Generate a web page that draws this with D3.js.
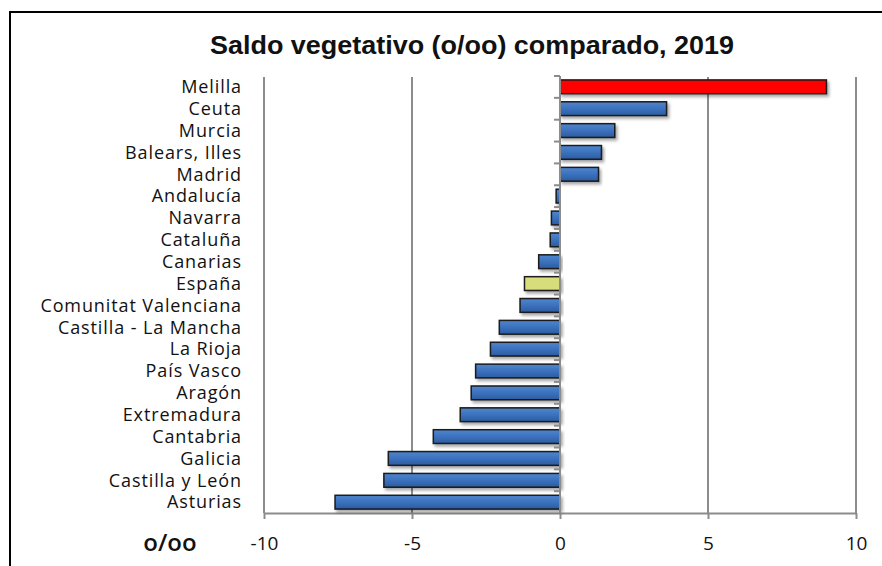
<!DOCTYPE html>
<meta charset="utf-8">
<style>
body { margin: 0; background: #fff; }
text { fill: #111; }
.cat text { font-family: "Open Sans", sans-serif; font-size: 18px; letter-spacing: 0.9px; }
.xlab { font-family: "Open Sans", sans-serif; font-size: 19px; }
.title { font-family: "Liberation Sans", Arial, sans-serif; font-weight: bold; font-size: 25px; }
</style>
<svg width="882" height="566"></svg>
<script src="https://cdn.jsdelivr.net/npm/d3@7"></script>
<script>

var regions = ["Melilla", "Ceuta", "Murcia", "Balears, Illes", "Madrid", "Andalucía", "Navarra",
  "Cataluña", "Canarias", "España", "Comunitat Valenciana", "Castilla - La Mancha", "La Rioja",
  "País Vasco", "Aragón", "Extremadura", "Cantabria", "Galicia", "Castilla y León", "Asturias"];
var saldo = [9.0, 3.6, 1.85, 1.4, 1.3, -0.13, -0.29, -0.33, -0.72, -1.2, -1.35, -2.05, -2.35,
  -2.85, -3.0, -3.37, -4.28, -5.8, -5.95, -7.6];
var xTicks = [-10, -5, 0, 5, 10];

var svg = d3.select("svg");
var x = d3.scaleLinear().domain([-10, 10]).range([264, 856]);
var y = d3.scaleBand().domain(regions).range([76, 513]).paddingInner(0.37).paddingOuter(0.18);
var band = d3.scaleBand().domain(regions).range([76, 513]);

// frame
svg.append("rect").attr("x", 10).attr("y", 12).attr("width", 900).attr("height", 600)
  .attr("fill", "none").attr("stroke", "#000").attr("stroke-width", 2);

svg.append("text").attr("class", "title").attr("x", 472).attr("y", 54)
  .attr("text-anchor", "middle").attr("textLength", 524).attr("lengthAdjust", "spacingAndGlyphs")
  .text("Saldo vegetativo (o/oo) comparado, 2019");

var defs = svg.append("defs");
var g1 = defs.append("linearGradient").attr("id", "blue").attr("x1", 0).attr("y1", 0).attr("x2", 0).attr("y2", 1);
g1.append("stop").attr("offset", "0%").attr("stop-color", "#4f86cf");
g1.append("stop").attr("offset", "55%").attr("stop-color", "#3a6fbb");
g1.append("stop").attr("offset", "100%").attr("stop-color", "#2c5c9f");
var f = defs.append("filter").attr("id", "shadow").attr("x", "-5%").attr("y", "-30%").attr("width", "115%").attr("height", "180%");
f.append("feDropShadow").attr("dx", 2).attr("dy", 2.5).attr("stdDeviation", 1.5)
  .attr("flood-color", "#000").attr("flood-opacity", 0.35);

// grid lines
svg.append("g").selectAll("line").data(xTicks.filter(function(d) { return d != 0; }))
  .enter().append("line")
  .attr("x1", function(d) { return x(d); }).attr("x2", function(d) { return x(d); })
  .attr("y1", 77).attr("y2", 513)
  .attr("stroke", "#8c8c8c").attr("stroke-width", 2);

// x axis
var xa = svg.append("g").attr("transform", "translate(0,513)")
  .call(d3.axisBottom(x).tickValues(xTicks).tickSize(6).tickSizeOuter(0).tickFormat(d3.format("d")));
xa.select(".domain").attr("stroke", "#8c8c8c").attr("stroke-width", 2);
xa.selectAll(".tick line").attr("stroke", "#8c8c8c").attr("stroke-width", 2);
xa.selectAll(".tick text").attr("class", "xlab").attr("y", 24).attr("fill", "#111")
  .text(function(d) { return d < 0 ? "-" + (-d) : d; });

svg.append("text").attr("class", "xlab").attr("x", 170).attr("y", 551)
  .attr("text-anchor", "middle").style("font-size", "24px").style("font-weight", "600").text("o/oo");

// bars
svg.append("g").selectAll("rect").data(regions).enter().append("rect")
  .attr("x", function(d, i) { return x(Math.min(0, saldo[i])); })
  .attr("y", function(d) { return y(d); })
  .attr("width", function(d, i) { return Math.abs(x(saldo[i]) - x(0)); })
  .attr("height", y.bandwidth())
  .attr("fill", function(d) { return d == "Melilla" ? "#ff0000" : d == "España" ? "#d6dd7a" : "url(#blue)"; })
  .attr("stroke", "#1a1a1a").attr("stroke-width", 1.5)
  .attr("filter", "url(#shadow)");

// y axis
var ya = svg.append("g").attr("class", "cat").attr("transform", "translate(560,0)");
ya.append("line").attr("y1", 76).attr("y2", 513).attr("stroke", "#8c8c8c").attr("stroke-width", 2);
ya.selectAll("line.tk").data(regions).enter().append("line").attr("class", "tk")
  .attr("x1", -6).attr("x2", 0)
  .attr("y1", function(d) { return band(d); }).attr("y2", function(d) { return band(d); })
  .attr("stroke", "#8c8c8c").attr("stroke-width", 2);
ya.selectAll("text").data(regions).enter().append("text")
  .attr("x", -318).attr("y", function(d) { return band(d) + band.bandwidth() / 2; })
  .attr("dy", "0.35em").attr("text-anchor", "end").text(function(d) { return d; });

</script>
